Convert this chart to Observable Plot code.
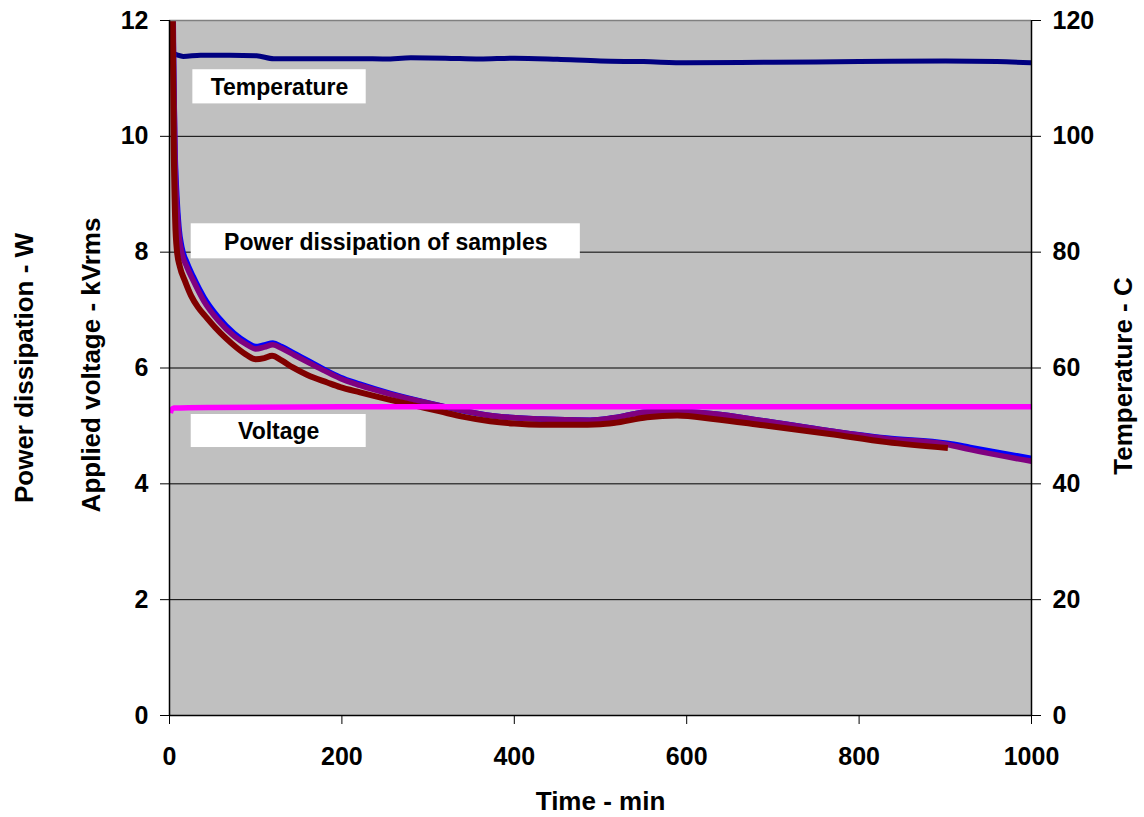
<!DOCTYPE html>
<html>
<head>
<meta charset="utf-8">
<script src="https://cdn.jsdelivr.net/npm/d3@7"></script>
<script src="https://cdn.jsdelivr.net/npm/@observablehq/plot@0.6"></script>
<style>
  html, body { margin: 0; padding: 0; background: #fff; }
  #chart svg { display: block; }
</style>
</head>
<body>
<div id="chart"></div>
<script>
// Temperature of the test cell (°C, right axis)
const tempTime = [0, 1, 8, 16, 36, 70, 101, 121, 160, 221, 250, 280, 320, 360, 400, 450, 500, 550, 600, 700, 800, 900, 960, 1000];
const tempC    = [114.6, 114.5, 114.1, 113.8, 114.0, 114.0, 113.9, 113.4, 113.4, 113.4, 113.35, 113.55, 113.5, 113.35, 113.5, 113.3, 113.0, 112.9, 112.7, 112.8, 112.9, 113.0, 112.9, 112.7];

// Applied voltage (kVrms, left axis)
const voltTime = [1, 2, 5, 50, 200, 400, 600, 800, 1000];
const voltKV   = [5.22, 5.27, 5.31, 5.32, 5.33, 5.33, 5.33, 5.33, 5.33];

// Power dissipation of the three samples (W, left axis)
const blueTime = [2, 4, 6, 8.6, 11, 14.4, 20, 27.5, 40, 56.5, 75, 90, 100, 110, 120, 130, 145, 163, 180, 198, 221, 256, 314, 372, 430, 488, 515, 554, 589, 631, 689, 755, 832, 902, 929, 1000];
const blueW    = [14.5, 12.0, 10.0, 8.95, 8.42, 8.08, 7.83, 7.58, 7.22, 6.88, 6.60, 6.44, 6.37, 6.40, 6.43, 6.37, 6.25, 6.11, 5.97, 5.84, 5.72, 5.56, 5.35, 5.18, 5.12, 5.10, 5.14, 5.24, 5.25, 5.21, 5.09, 4.94, 4.79, 4.70, 4.63, 4.44];

const purpleTime = [3, 5, 6.6, 8.6, 11, 14.4, 20, 27.5, 40, 56.5, 75, 90, 100, 110, 120, 130, 145, 163, 180, 198, 221, 256, 314, 372, 430, 488, 515, 554, 589, 631, 689, 755, 832, 902, 929, 1000];
const purpleW    = [14.0, 11.0, 9.5, 8.78, 8.30, 7.98, 7.75, 7.51, 7.15, 6.82, 6.55, 6.40, 6.33, 6.36, 6.40, 6.34, 6.22, 6.08, 5.95, 5.82, 5.70, 5.55, 5.35, 5.18, 5.12, 5.10, 5.14, 5.24, 5.25, 5.21, 5.09, 4.94, 4.78, 4.68, 4.59, 4.39];

const maroonTime = [1, 2.5, 3.7, 4.6, 6.6, 8.6, 12, 18, 25, 33, 43, 53, 65, 78, 90, 100, 110, 119, 130, 143, 160, 183, 198, 221, 256, 285, 314, 340, 372, 400, 430, 470, 500, 515, 554, 589, 631, 689, 766, 832, 903];
const maroonW    = [18, 14, 12.0, 10.27, 8.55, 8.03, 7.75, 7.50, 7.25, 7.05, 6.87, 6.70, 6.52, 6.35, 6.22, 6.15, 6.17, 6.21, 6.13, 6.01, 5.88, 5.75, 5.67, 5.58, 5.45, 5.35, 5.25, 5.16, 5.08, 5.04, 5.02, 5.02, 5.03, 5.05, 5.15, 5.18, 5.12, 5.01, 4.86, 4.72, 4.62];

// Axis ticks
const xTicks = [0, 200, 400, 600, 800, 1000];
const yTicks = [0, 2, 4, 6, 8, 10, 12];
const gridTicks = [2, 4, 6, 8, 10];

// Callout labels inside the plot (time range and value range of each white box)
const calloutText = ["Temperature", "Power dissipation of samples", "Voltage"];
const calloutT1 = [27.1, 25.2, 25.2];
const calloutT2 = [228.2, 476.6, 228.2];
const calloutV1 = [10.56, 7.885, 4.627];
const calloutV2 = [11.15, 8.49, 5.197];

const rows = (ts, vs) => ts.map((t, i) => ({t, v: vs[i]}));
const temp = rows(tempTime, tempC);
const volt = rows(voltTime, voltKV);
const blue = rows(blueTime, blueW);
const purple = rows(purpleTime, purpleW);
const maroon = rows(maroonTime, maroonW);
const callouts = calloutText.map((text, i) => ({
  text, t1: calloutT1[i], t2: calloutT2[i], v1: calloutV1[i], v2: calloutV2[i]
}));

const font = "'Liberation Sans', Arial, Helvetica, sans-serif";
const lineOpts = {x: "t", y: "v", curve: "monotone-x", clip: true, strokeLinejoin: "round", strokeLinecap: "butt"};
const titleOpts = {rotate: -90, textAnchor: "middle", lineAnchor: "middle", fontSize: 26, fontWeight: "bold", fill: "black"};

const chart = Plot.plot({
  width: 1144,
  height: 817,
  marginLeft: 169,
  marginRight: 113,
  marginTop: 20,
  marginBottom: 102,
  style: {fontFamily: font, fontSize: "25px", fontWeight: "bold", color: "black", background: "white", overflow: "visible"},
  x: {domain: [0, 1000]},
  y: {domain: [0, 12]},
  marks: [
    Plot.frame({fill: "#C0C0C0", stroke: "none"}),
    Plot.ruleY(gridTicks, {stroke: "black", strokeWidth: 1}),
    // Temperature shares the left scale at one tenth of its value
    Plot.line(temp, {...lineOpts, y: d => d.v / 10, stroke: "#000080", strokeWidth: 5}),
    Plot.line(blue, {...lineOpts, stroke: "#0000FF", strokeWidth: 5.5}),
    Plot.line(purple, {...lineOpts, stroke: "#800080", strokeWidth: 5.5}),
    Plot.line(maroon, {...lineOpts, stroke: "#800000", strokeWidth: 6}),
    Plot.line(volt, {...lineOpts, stroke: "#FF00FF", strokeWidth: 5.5}),
    Plot.rect(callouts, {x1: "t1", x2: "t2", y1: "v1", y2: "v2", fill: "white"}),
    Plot.text(callouts, {
      x: d => (d.t1 + d.t2) / 2, y: d => (d.v1 + d.v2) / 2, text: "text",
      fontSize: 23, fontWeight: "bold", fill: "black", dy: 1
    }),
    // plot border and axis lines
    Plot.ruleY([12], {stroke: "#808080", strokeWidth: 1.5}),
    Plot.ruleX([0, 1000], {stroke: "black", strokeWidth: 1.5}),
    Plot.ruleY([0], {stroke: "black", strokeWidth: 1.5}),
    Plot.axisX({ticks: xTicks, tickSize: 9, tickPadding: 23, tickFormat: d => String(d), label: null, fontSize: 25}),
    Plot.axisY({anchor: "left", ticks: yTicks, tickSize: 9, tickPadding: 12, tickFormat: d => String(d), label: null, fontSize: 25}),
    Plot.axisY({anchor: "right", ticks: yTicks, tickSize: 9, tickPadding: 12, tickFormat: d => String(d * 10), label: null, fontSize: 25}),
    // axis titles
    Plot.text(["Power dissipation - W"], {...titleOpts, frameAnchor: "left", dx: -145}),
    Plot.text(["Applied voltage - kVrms"], {...titleOpts, frameAnchor: "left", dx: -78, dy: -3}),
    Plot.text(["Temperature - C"], {...titleOpts, frameAnchor: "right", dx: 92, dy: 8}),
    Plot.text(["Time - min"], {frameAnchor: "bottom", textAnchor: "middle", lineAnchor: "middle", dy: 86, fontSize: 26, fontWeight: "bold", fill: "black"})
  ]
});

document.getElementById("chart").appendChild(chart);
</script>
</body>
</html>
